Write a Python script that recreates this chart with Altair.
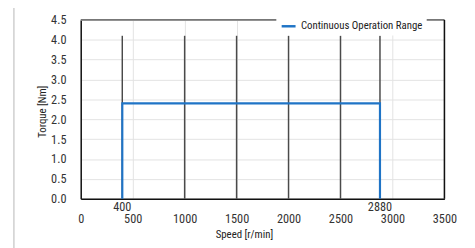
import altair as alt
import pandas as pd

# ---- data ----
x_ticks = [0, 500, 1000, 1500, 2000, 2500, 3000, 3500]
y_ticks = [0.0, 0.5, 1.0, 1.5, 2.0, 2.5, 3.0, 3.5, 4.0, 4.5]
range_speed = [400, 400, 2880, 2880]
range_torque = [0.0, 2.4, 2.4, 0.0]
marker_speeds = [400, 1000, 1500, 2000, 2500, 2880]
marker_top = 4.1
extra_labels = [400, 2880]
series_name = "Continuous Operation Range"

FONT = "Liberation Sans Narrow, Roboto Condensed, Arial Narrow, Roboto, sans-serif"
BLUE = "#1f74c6"

W, H = 370, 182

xs = alt.Scale(domain=[0, 3500], nice=False)
ys = alt.Scale(domain=[0, 4.5], nice=False)

range_df = pd.DataFrame({"speed": range_speed, "torque": range_torque,
                         "order": list(range(len(range_speed))),
                         "series": [series_name] * len(range_speed)})
marker_df = pd.DataFrame({"speed": marker_speeds, "torque": [marker_top] * len(marker_speeds),
                          "bottom": [0.0] * len(marker_speeds)})
extra_df = pd.DataFrame({"speed": extra_labels, "label": [str(v) for v in extra_labels]})
one = pd.DataFrame({"a": [0]})

x_axis = alt.Axis(values=x_ticks, format="d", title="Speed [r/min]", grid=True,
                  gridColor="#e2e2e2", domainColor="#111", domainWidth=1.5,
                  ticks=False, labelPadding=14, labelFontSize=12.5,
                  labelColor="#333", titleFontSize=11, titleFontWeight="normal",
                  titleColor="#222", titleX=166, titleY=36,
                  titleBaseline="middle", labelFlush=False, labelOverlap=False)
y_axis = alt.Axis(values=y_ticks, format=".1f", title="Torque [Nm]", grid=True,
                  gridColor="#e2e2e2", domainColor="#111", domainWidth=1.5,
                  ticks=False, labelPadding=15, labelFontSize=12.5,
                  labelColor="#333", titleFontSize=11, titleFontWeight="normal",
                  titleColor="#222", titleX=-38.5, titleY=93, titleAngle=270,
                  titleBaseline="middle", labelOverlap=False)

X = alt.X("speed:Q", scale=xs, axis=x_axis)
Y = alt.Y("torque:Q", scale=ys, axis=y_axis)

markers = alt.Chart(marker_df).mark_rule(color="#4a4a4a", strokeWidth=1.5).encode(
    x=X, y=Y, y2="bottom:Q")

right_border = alt.Chart(one).mark_rule(color="#111", strokeWidth=1.5).encode(
    x=alt.value(W), y=alt.value(0), y2=alt.value(H))
top_border = alt.Chart(one).mark_rule(color="#777", strokeWidth=2).encode(
    x=alt.value(0), x2=alt.value(W), y=alt.value(0))

line = alt.Chart(range_df).mark_line(strokeWidth=2.2).encode(
    x=X, y=Y,
    order="order:Q",
    color=alt.Color("series:N", scale=alt.Scale(range=[BLUE]),
                    legend=alt.Legend(title=None, orient="none", legendX=199, legendY=-6,
                                      fillColor="white", padding=4, symbolType="stroke",
                                      symbolStrokeWidth=2.5, symbolSize=200,
                                      labelFontSize=11, labelColor="#222", labelFont=FONT)))

extra = alt.Chart(extra_df).mark_text(fontSize=12.5, color="#333", font=FONT,
                                      baseline="middle").encode(
    x=X, y=alt.value(190), text="label:N")

frame_left = alt.Chart(one).mark_rule(color="#cfcfcf", strokeWidth=1.5).encode(
    x=alt.value(-68), y=alt.value(-14), y2=alt.value(240))
frame_top = alt.Chart(one).mark_rule(color="#cfcfcf", strokeWidth=1.5).encode(
    x=alt.value(-68), x2=alt.value(400), y=alt.value(-14))

chart = alt.layer(frame_left, frame_top, top_border, markers, right_border, line, extra).properties(
    width=W, height=H,
    autosize=alt.AutoSizeParams(type="none"),
    padding={"left": 74, "top": 10, "right": 23, "bottom": 48},
).configure_view(stroke=None).configure(font=FONT)

chart.save("out.html", embed_options={"renderer": "svg", "actions": False})
